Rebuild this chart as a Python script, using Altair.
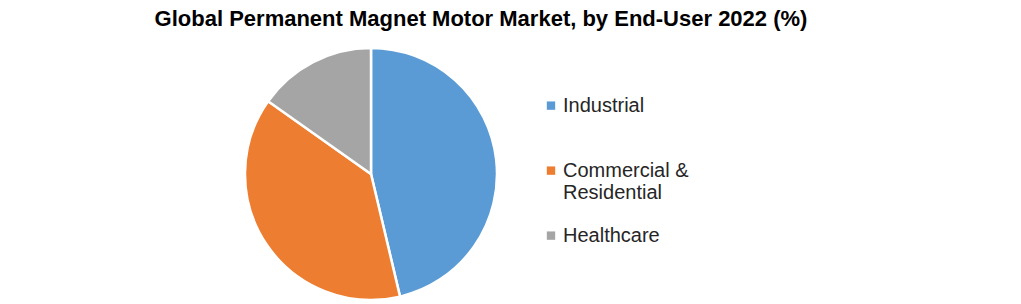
import altair as alt
import pandas as pd

categories = ["Industrial", "Commercial & Residential", "Healthcare"]
shares = [46.3, 38.5, 15.2]
colors = ["#5B9BD5", "#ED7D31", "#A5A5A5"]

df = pd.DataFrame({"segment": categories, "share": shares, "rank": list(range(len(categories)))})

# square legend symbol, drawn a little lower so it sits beside the first text line
legend_symbol = "M-1,1.3 L1,1.3 L1,3.3 L-1,3.3 Z"

chart = (
    alt.Chart(df)
    .mark_arc(stroke="white", strokeWidth=2.5)
    .encode(
        theta=alt.Theta("share:Q", stack=True),
        order=alt.Order("rank:Q"),
        color=alt.Color(
            "segment:N",
            sort=categories,
            scale=alt.Scale(domain=categories, range=colors),
            legend=alt.Legend(
                title=None,
                orient="none",
                legendX=296,
                legendY=38,
                symbolType=legend_symbol,
                symbolSize=70,
                symbolStrokeWidth=0,
                labelFont="Liberation Sans",
                labelFontSize=20,
                labelColor="#262626",
                labelLimit=300,
                labelOffset=2,
                labelBaseline="top",
                gridAlign="all",
                rowPadding=13,
                labelExpr="datum.label == 'Commercial & Residential' ? ['Commercial &', 'Residential'] : datum.label",
            ),
        ),
    )
    .properties(
        width=252,
        height=252,
        padding={"left": 245, "top": 48, "right": 524, "bottom": 4},
        autosize=alt.AutoSizeParams(type="none"),
        title=alt.TitleParams(
            "Global Permanent Magnet Motor Market, by End-User 2022 (%)",
            font="Liberation Sans",
            fontSize=22,
            fontWeight="bold",
            color="#000000",
            anchor="middle",
            dx=110,
            offset=12,
        ),
    )
    .configure_view(stroke=None)
)

chart.save("out.html", embed_options={"renderer": "svg", "actions": False})
